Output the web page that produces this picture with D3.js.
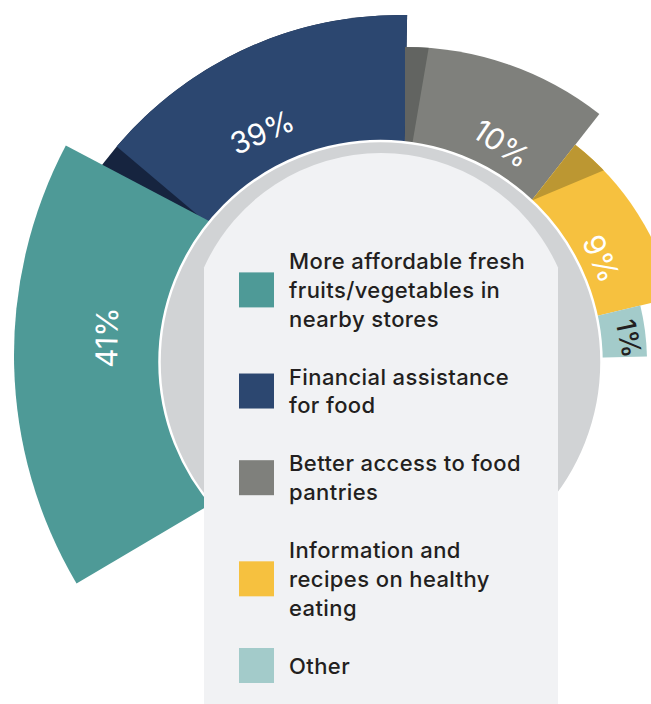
<!DOCTYPE html>
<html><head><meta charset="utf-8">
<script src="https://cdn.jsdelivr.net/npm/d3@7"></script>
<style>html,body{margin:0;padding:0;background:#fff;overflow:hidden}svg{display:block}</style>
</head><body><svg id="chart" width="651" height="704"></svg>
<script>
// ---------------- data ----------------
const categories = [
  "More affordable fresh fruits/vegetables in nearby stores",
  "Financial assistance for food",
  "Better access to food pantries",
  "Information and recipes on healthy eating",
  "Other"
];
const values = [41, 39, 10, 9, 1];
const valueLabels = ["41%", "39%", "10%", "9%", "1%"];
const legendLines = [
  ["More affordable fresh", "fruits/vegetables in", "nearby stores"],
  ["Financial assistance", "for food"],
  ["Better access to food", "pantries"],
  ["Information and", "recipes on healthy", "eating"],
  ["Other"]
];

// ---------------- styles / layout (not data) ----------------
const colors = ["#4e9a97", "#2c4770", "#7f807c", "#f6c13f", "#a3cbca"];
const shade  = [null, "#16243f", "#626461", "#bc9732", null];
const labelColors = ["#fff", "#fff", "#fff", "#fff", "#231f20"];
// per-slice geometry of the illustration: centre, start/end angle (deg, clockwise from 12 o'clock), radius
const sliceLayout = [
  {cx: 463, cy: 355, a0: -120.6, a1: -62.2, r: 449, la: -87.2, lr: 357, rot: -89},
  {cx: 400, cy: 386, a0: -49.8,  a1: 1.1,   r: 371, la: -28.5, lr: 289, rot: -24},
  {cx: 405, cy: 362, a0: 0,      a1: 38.1,  r: 315, la: 23.9,  lr: 239, rot: 34},
  {cx: 405, cy: 362, a0: 38.1,   a1: 76.5,  r: 276, la: 62.2,  lr: 222, rot: 65},
  {cx: 405, cy: 362, a0: 76.5,   a1: 88.7,  r: 242, la: 84,    lr: 225, rot: 78}
];
const ring = {cx: 380.5, cy: 362, r: 221};
const panel = {x0: 204, x1: 558, cx: 381, cy: 347, r: 194};

const svg = d3.select("#chart");
const rad = d3.scaleLinear().domain([0, 360]).range([0, 2 * Math.PI]);
const color = d3.scaleOrdinal().domain(categories).range(colors);
const arc = d3.arc().innerRadius(0);
const defs = svg.append("defs");

const slices = categories.map((c, i) => ({cat: c, value: values[i], label: valueLabels[i], i, ...sliceLayout[i]}));
const slicePath = d => arc({startAngle: rad(d.a0), endAngle: rad(d.a1), outerRadius: d.r});

// clip paths for the shading of neighbouring slices
slices.forEach(d => {
  defs.append("clipPath").attr("id", "clip" + d.i)
    .append("path").attr("d", slicePath(d)).attr("transform", `translate(${d.cx},${d.cy})`);
});

const gSlices = svg.append("g");
// navy darker underside
const navy = slices[1];
gSlices.append("path")
  .attr("transform", `translate(${navy.cx},${navy.cy})`)
  .attr("d", arc({startAngle: rad(navy.a0 - 7), endAngle: rad(navy.a1), outerRadius: navy.r}))
  .attr("fill", shade[1]);
// draw order: navy, teal, grey, yellow, other
[1, 0, 2, 3, 4].forEach(i => {
  const d = slices[i];
  gSlices.append("path")
    .attr("transform", `translate(${d.cx},${d.cy})`)
    .attr("d", slicePath(d))
    .attr("fill", color(d.cat));
});
// shading cast on grey and yellow slices
const shadows = [
  {i: 2, cx: 375, cy: 362, a0: -20, a1: 9.7, r: 420},
  {i: 3, cx: 399, cy: 256, a0: 0, a1: 67.3, r: 420}
];
shadows.forEach(s => {
  svg.append("g").attr("clip-path", `url(#clip${s.i})`)
    .append("path")
    .attr("transform", `translate(${s.cx},${s.cy})`)
    .attr("d", arc({startAngle: rad(s.a0), endAngle: rad(s.a1), outerRadius: s.r}))
    .attr("fill", shade[s.i]);
});

// grey ring
svg.append("circle").attr("cx", ring.cx).attr("cy", ring.cy).attr("r", ring.r)
  .attr("fill", "#d1d3d5").attr("stroke", "#fff").attr("stroke-width", 2.5);

// legend panel
const dy = Math.sqrt(panel.r * panel.r - (panel.cx - panel.x0) ** 2);
const p = d3.path();
p.moveTo(panel.x0, 704);
p.lineTo(panel.x0, panel.cy - dy);
p.arc(panel.cx, panel.cy, panel.r,
  Math.atan2(-dy, panel.x0 - panel.cx), Math.atan2(-dy, panel.x1 - panel.cx), false);
p.lineTo(panel.x1, 704);
p.closePath();
svg.append("path").attr("d", p.toString()).attr("fill", "#f1f2f4");

// value labels
slices.forEach(d => {
  const x = d.cx + d.lr * Math.sin(rad(d.la));
  const y = d.cy - d.lr * Math.cos(rad(d.la));
  svg.append("text")
    .attr("transform", `translate(${x},${y}) rotate(${d.rot})`)
    .attr("text-anchor", "middle").attr("dominant-baseline", "central")
    .attr("font-family", "Inter, 'Liberation Sans', Arial, sans-serif")
    .attr("font-size", d.i === 4 ? 27 : 30)
    .attr("font-weight", d.i === 4 ? 500 : 400)
    .attr("fill", labelColors[d.i])
    .text(d.label);
});

// legend
let idx = 0;
const items = legendLines.map((lines, i) => {
  const start = idx; idx += lines.length + 1;
  return {cat: categories[i], lines, start};
});
const lineY = d3.scaleLinear().domain([0, 14]).range([269, 673.5]);
const lg = svg.append("g");
items.forEach(it => {
  const ys = it.lines.map((l, k) => lineY(it.start + k));
  const mid = d3.mean(ys) - 8;
  lg.append("rect").attr("x", 239).attr("y", mid - 17.5).attr("width", 35).attr("height", 35)
    .attr("fill", color(it.cat));
  it.lines.forEach((l, k) => {
    lg.append("text").attr("x", 289).attr("y", ys[k])
      .attr("font-family", "Inter, 'Liberation Sans', Arial, sans-serif")
      .attr("font-size", 22).attr("font-weight", 500).attr("letter-spacing", 0.4)
      .attr("fill", "#231f20")
      .text(l);
  });
});
</script></body></html>
